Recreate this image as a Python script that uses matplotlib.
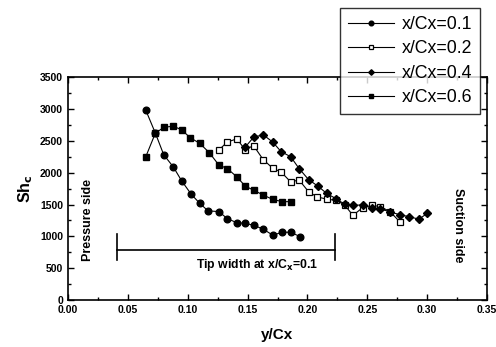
import numpy as np
import matplotlib
matplotlib.use("Agg")
import matplotlib.pyplot as plt
from matplotlib.ticker import MultipleLocator

plt.rcParams["font.family"] = ["Liberation Sans", "DejaVu Sans"]

# x/Cx = 0.1 (filled circles)
x01 = [0.065, 0.073, 0.080, 0.088, 0.095, 0.103, 0.110, 0.117, 0.126, 0.133,
       0.141, 0.148, 0.155, 0.163, 0.171, 0.179, 0.186, 0.194]
y01 = [2980, 2620, 2280, 2090, 1870, 1660, 1520, 1400, 1390, 1280,
       1215, 1205, 1175, 1115, 1020, 1065, 1065, 995]

# x/Cx = 0.2 (open squares)
x02 = [0.126, 0.133, 0.141, 0.148, 0.155, 0.163, 0.171, 0.178, 0.186, 0.193,
       0.201, 0.208, 0.216, 0.224, 0.231, 0.238, 0.246, 0.254, 0.261, 0.269, 0.277]
y02 = [2355, 2480, 2530, 2360, 2425, 2205, 2070, 2010, 1855, 1885,
       1700, 1620, 1585, 1565, 1495, 1330, 1450, 1490, 1465, 1390, 1230]

# x/Cx = 0.4 (filled diamonds)
x04 = [0.148, 0.155, 0.163, 0.171, 0.178, 0.186, 0.193, 0.201, 0.209, 0.216,
       0.224, 0.231, 0.238, 0.246, 0.254, 0.261, 0.269, 0.277, 0.285, 0.293, 0.300]
y04 = [2400, 2555, 2595, 2480, 2330, 2250, 2065, 1890, 1785, 1675,
       1590, 1505, 1485, 1495, 1440, 1430, 1386, 1340, 1310, 1270, 1360]

# x/Cx = 0.6 (filled squares)
x06 = [0.065, 0.073, 0.080, 0.088, 0.095, 0.102, 0.110, 0.118, 0.126, 0.133,
       0.141, 0.148, 0.155, 0.163, 0.171, 0.179, 0.186]
y06 = [2250, 2620, 2710, 2730, 2670, 2550, 2460, 2315, 2120, 2065,
       1935, 1790, 1725, 1650, 1580, 1545, 1545]

labels = ["x/Cx=0.1", "x/Cx=0.2", "x/Cx=0.4", "x/Cx=0.6"]

# tip width bracket (data coords)
tip_x = [0.041, 0.223]
tip_y = 785

fig = plt.figure(figsize=(4.96, 3.47), dpi=100)
ax = fig.add_axes([0.137, 0.135, 0.845, 0.643])

ax.plot(x01, y01, "-", color="black", lw=0.8, marker="o", ms=4.8, label=labels[0])
ax.plot(x02, y02, "-", color="black", lw=0.8, marker="s", ms=4.4, mfc="white",
        mew=0.9, label=labels[1])
ax.plot(x04, y04, "-", color="black", lw=0.8, marker="D", ms=4.0, label=labels[2])
ax.plot(x06, y06, "-", color="black", lw=0.8, marker="s", ms=4.0, label=labels[3])

# bracket
ax.plot(tip_x, [tip_y, tip_y], color="black", lw=1.2)
for xx in tip_x:
    ax.plot([xx, xx], [630, 1035], color="black", lw=1.2)
ax.text(0.158, 545, "Tip width at x/C$_\\mathbf{x}$=0.1", ha="center", va="center",
        fontsize=8.8, fontweight="bold")

ax.text(0.0165, 1250, "Pressure side", rotation=90, ha="center", va="center",
        fontsize=9, fontweight="bold")
ax.text(0.3255, 1170, "Suction side", rotation=-90, ha="center", va="center",
        fontsize=9, fontweight="bold")

ax.set_xlim(0, 0.35)
ax.set_ylim(0, 3500)
ax.xaxis.set_major_locator(MultipleLocator(0.05))
ax.xaxis.set_minor_locator(MultipleLocator(0.025))
ax.yaxis.set_major_locator(MultipleLocator(500))
ax.yaxis.set_minor_locator(MultipleLocator(250))
ax.xaxis.set_major_formatter(matplotlib.ticker.FormatStrFormatter("%.2f"))
ax.tick_params(which="both", direction="in", top=True, right=True, width=1.0)
ax.tick_params(which="major", length=4, labelsize=7.5)
ax.tick_params(which="minor", length=2)
for lab in ax.get_xticklabels() + ax.get_yticklabels():
    lab.set_fontweight("bold")
for sp in ax.spines.values():
    sp.set_linewidth(1.2)

ax.set_xlabel("y/Cx", fontsize=11, fontweight="bold", labelpad=9)
ax.set_ylabel("Sh$_\\mathbf{c}$", fontsize=11.5, fontweight="bold", labelpad=4)

h, l = ax.get_legend_handles_labels()
leg = fig.legend(h[:4], l[:4], loc="upper left", bbox_to_anchor=(0.667, 1.003),
                 fontsize=12.8, frameon=True, fancybox=False, edgecolor="black",
                 handlelength=2.6, handletextpad=0.45, labelspacing=0.42,
                 borderpad=0.45, markerscale=0.7)
leg.get_frame().set_linewidth(1.0)

fig.savefig("out.png", dpi=100)
